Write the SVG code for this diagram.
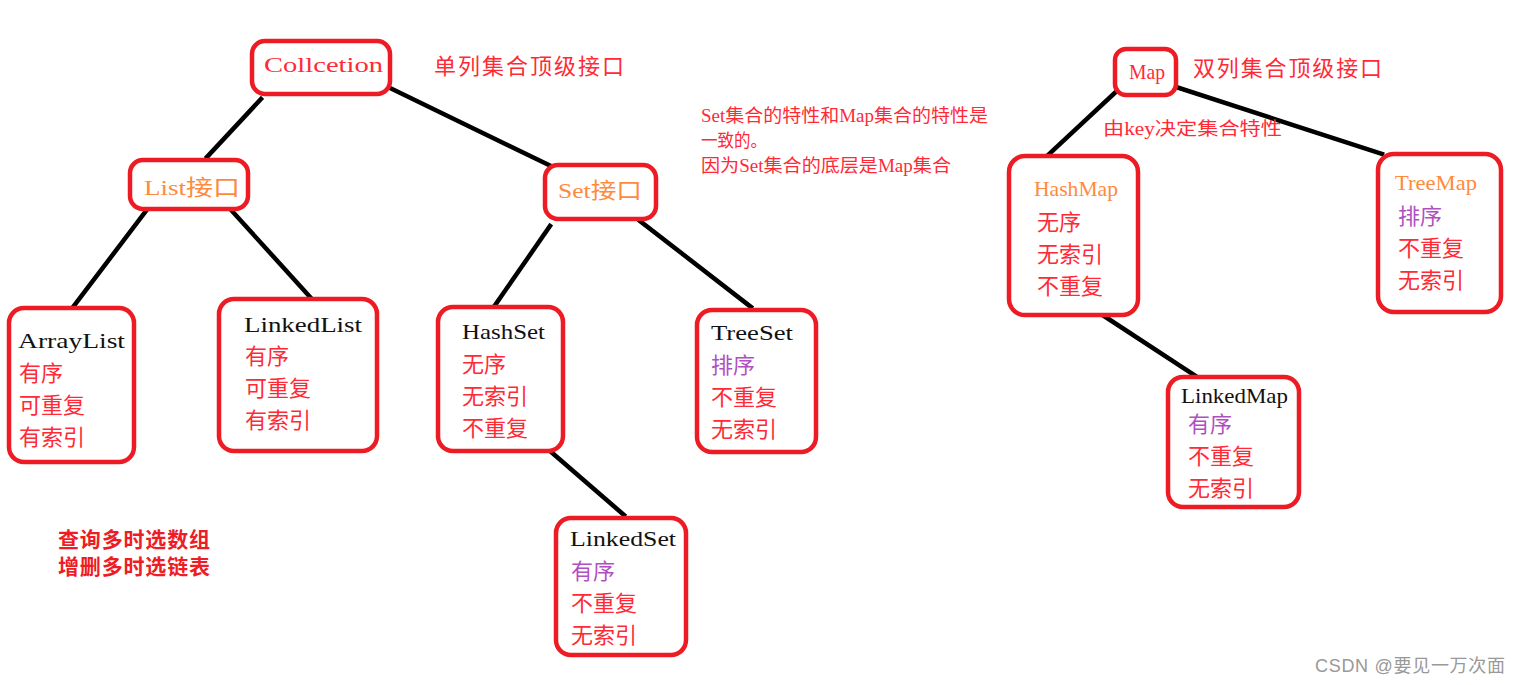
<svg xmlns="http://www.w3.org/2000/svg" width="1521" height="685" viewBox="0 0 1521 685">
<style>
.box{fill:#fff;stroke:#ED1C24;stroke-width:4.5}
.ln{stroke:#000;stroke-width:4.5;stroke-linecap:square}
text{font-family:"Liberation Serif","Noto Sans CJK SC",serif;font-size:22px}
.k{fill:#111}
.r{fill:#FF2A35}
.o{fill:#FF8A3D}
.p{fill:#B050C0}
.note{font-size:18px;fill:#FF2A35}
.bold{font-size:21px;font-weight:bold;fill:#EE1C25}
.wm{font-family:"Liberation Sans","Noto Sans CJK SC",sans-serif;font-size:18px;fill:#999}
</style>
<rect width="1521" height="685" fill="#fff"/>
<g id="connectors">
<line class="ln" x1="261" y1="99" x2="207" y2="157"/>
<line class="ln" x1="390" y1="88" x2="551" y2="166"/>
<line class="ln" x1="146" y1="211" x2="73" y2="307"/>
<line class="ln" x1="232" y1="211" x2="311" y2="298"/>
<line class="ln" x1="550" y1="226" x2="491" y2="311"/>
<line class="ln" x1="640" y1="221" x2="751" y2="307"/>
<line class="ln" x1="550" y1="451" x2="624" y2="515"/>
<line class="ln" x1="1120" y1="88" x2="1048" y2="155"/>
<line class="ln" x1="1176" y1="87" x2="1382" y2="154"/>
<line class="ln" x1="1104" y1="316" x2="1197" y2="377"/>
</g>
<g id="collcetion"><rect class="box" x="252" y="41" width="138" height="53" rx="13"/><text class="r" x="264" y="72" textLength="119" lengthAdjust="spacingAndGlyphs">Collcetion</text></g>
<text class="r" x="434" y="74" textLength="190">单列集合顶级接口</text>
<g id="list"><rect class="box" x="130" y="160" width="118" height="49" rx="13"/><text class="o" x="144" y="195" textLength="96" lengthAdjust="spacingAndGlyphs">List接口</text></g>
<g id="set"><rect class="box" x="545" y="165" width="111" height="54" rx="13"/><text class="o" x="558" y="198" textLength="84" lengthAdjust="spacingAndGlyphs">Set接口</text></g>
<g id="arraylist"><rect class="box" x="9" y="308" width="125" height="154" rx="15"/>
<text class="k" x="18" y="348" textLength="107" lengthAdjust="spacingAndGlyphs">ArrayList</text>
<text class="r" x="19" y="381">有序</text><text class="r" x="19" y="413">可重复</text><text class="r" x="19" y="445">有索引</text></g>
<g id="linkedlist"><rect class="box" x="219" y="299" width="158" height="152" rx="15"/>
<text class="k" x="244" y="332" textLength="118" lengthAdjust="spacingAndGlyphs">LinkedList</text>
<text class="r" x="245" y="364">有序</text><text class="r" x="245" y="396">可重复</text><text class="r" x="245" y="428">有索引</text></g>
<g id="hashset"><rect class="box" x="438" y="307" width="125" height="144" rx="15"/>
<text class="k" x="462" y="339" textLength="83" lengthAdjust="spacingAndGlyphs">HashSet</text>
<text class="r" x="462" y="372">无序</text><text class="r" x="462" y="404">无索引</text><text class="r" x="462" y="436">不重复</text></g>
<g id="treeset"><rect class="box" x="697" y="310" width="119" height="142" rx="15"/>
<text class="k" x="711" y="340" textLength="82" lengthAdjust="spacingAndGlyphs">TreeSet</text>
<text class="p" x="711" y="373">排序</text><text class="r" x="711" y="405">不重复</text><text class="r" x="711" y="437">无索引</text></g>
<g id="linkedset"><rect class="box" x="556" y="518" width="130" height="137" rx="15"/>
<text class="k" x="570" y="546" textLength="106" lengthAdjust="spacingAndGlyphs">LinkedSet</text>
<text class="p" x="571" y="579">有序</text><text class="r" x="571" y="611">不重复</text><text class="r" x="571" y="643">无索引</text></g>
<text class="bold" x="58" y="547" textLength="152">查询多时选数组</text>
<text class="bold" x="58" y="574" textLength="152">增删多时选链表</text>
<text class="note" x="701" y="122" textLength="287" lengthAdjust="spacingAndGlyphs">Set集合的特性和Map集合的特性是</text>
<text class="note" x="701" y="147" textLength="66" lengthAdjust="spacingAndGlyphs">一致的。</text>
<text class="note" x="701" y="172" textLength="250" lengthAdjust="spacingAndGlyphs">因为Set集合的底层是Map集合</text>
<g id="map"><rect class="box" x="1115" y="49" width="61" height="46" rx="11"/><text class="r" x="1129" y="79" textLength="36" lengthAdjust="spacingAndGlyphs">Map</text></g>
<text class="r" x="1193" y="76" textLength="189">双列集合顶级接口</text>
<text class="note" x="1103" y="135" textLength="179" lengthAdjust="spacingAndGlyphs">由key决定集合特性</text>
<g id="hashmap"><rect class="box" x="1009" y="156" width="129" height="159" rx="16"/>
<text class="o" x="1034" y="196" textLength="84" lengthAdjust="spacingAndGlyphs">HashMap</text>
<text class="r" x="1037" y="230">无序</text><text class="r" x="1037" y="262">无索引</text><text class="r" x="1037" y="294">不重复</text></g>
<g id="treemap"><rect class="box" x="1378" y="154" width="123" height="158" rx="16"/>
<text class="o" x="1395" y="190" textLength="82" lengthAdjust="spacingAndGlyphs">TreeMap</text>
<text class="p" x="1398" y="224">排序</text><text class="r" x="1398" y="256">不重复</text><text class="r" x="1398" y="288">无索引</text></g>
<g id="linkedmap"><rect class="box" x="1168" y="377" width="131" height="130" rx="15"/>
<text class="k" x="1181" y="403" textLength="107" lengthAdjust="spacingAndGlyphs">LinkedMap</text>
<text class="p" x="1188" y="432">有序</text><text class="r" x="1188" y="464">不重复</text><text class="r" x="1188" y="496">无索引</text></g>
<text class="wm" x="1315" y="672" textLength="190">CSDN @要见一万次面</text>
</svg>
